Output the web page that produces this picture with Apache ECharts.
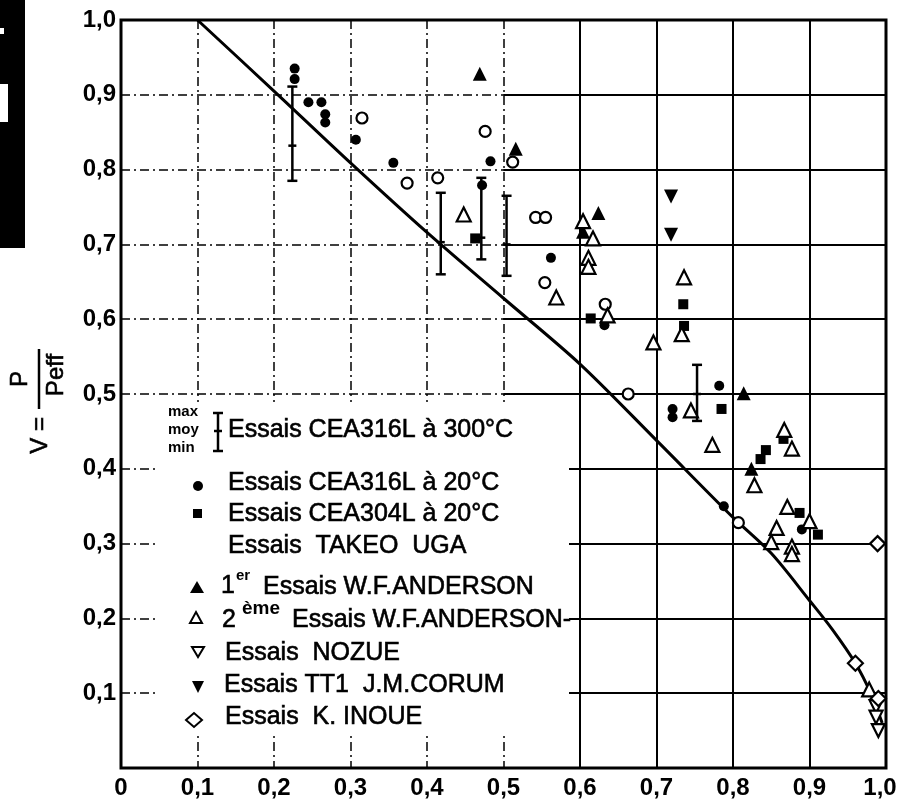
<!DOCTYPE html>
<html>
<head>
<meta charset="utf-8">
<script src="https://cdn.jsdelivr.net/npm/echarts@6/dist/echarts.min.js"></script>
<style>
html, body { margin: 0; padding: 0; background: #fff; }
#chart { width: 899px; height: 805px; }
</style>
</head>
<body>
<div id="chart"></div>
<script>
// tick labels (decimal comma)
var xTickLabels = ['0', '0,1', '0,2', '0,3', '0,4', '0,5', '0,6', '0,7', '0,8', '0,9', '1,0'];
var yTickLabels = ['', '0,1', '0,2', '0,3', '0,4', '0,5', '0,6', '0,7', '0,8', '0,9', '1,0'];

// courbe V = P / Peff
var curveX = [0.10, 0.20, 0.30, 0.40, 0.50, 0.60, 0.70, 0.80, 0.85, 0.90, 0.93, 0.96, 0.98, 0.995];
var curveY = [1.000, 0.905, 0.809, 0.716, 0.628, 0.540, 0.438, 0.335, 0.287, 0.224, 0.185, 0.140, 0.100, 0.060];

// Essais CEA 316L a 300 C : [x, max, moy, min]
var cea316l300 = [
    [0.224, 0.911, 0.832, 0.785],
    [0.418, 0.769, 0.703, 0.660],
    [0.471, 0.789, 0.709, 0.680],
    [0.504, 0.765, 0.700, 0.658],
    [0.753, 0.539, 0.500, 0.464]
];

// Essais CEA 316L a 20 C
var cea316l20 = [
    [0.227, 0.935], [0.227, 0.921], [0.245, 0.890], [0.262, 0.890], [0.267, 0.874],
    [0.267, 0.863], [0.307, 0.840], [0.356, 0.809], [0.483, 0.811], [0.472, 0.779],
    [0.562, 0.682], [0.632, 0.592], [0.721, 0.480], [0.721, 0.469], [0.782, 0.511],
    [0.788, 0.350], [0.890, 0.319]
];

// Essais CEA 304L a 20 C
var cea304l20 = [
    [0.463, 0.708], [0.614, 0.601], [0.735, 0.620], [0.736, 0.591], [0.785, 0.480],
    [0.843, 0.425], [0.836, 0.413], [0.866, 0.440], [0.887, 0.341], [0.911, 0.312]
];

// Essais TAKEO UGA
var takeoUga = [
    [0.315, 0.869], [0.374, 0.782], [0.414, 0.789], [0.476, 0.851], [0.512, 0.810],
    [0.542, 0.736], [0.555, 0.736], [0.554, 0.649], [0.633, 0.620], [0.663, 0.500],
    [0.807, 0.328]
];

// 1er essais W.F. ANDERSON
var anderson1 = [
    [0.469, 0.928], [0.516, 0.828], [0.624, 0.742], [0.604, 0.717], [0.814, 0.501], [0.824, 0.400]
];

// 2eme essais W.F. ANDERSON
var anderson2 = [
    [0.448, 0.740], [0.569, 0.629], [0.604, 0.731], [0.617, 0.708], [0.611, 0.682],
    [0.611, 0.670], [0.636, 0.605], [0.696, 0.569], [0.736, 0.656], [0.733, 0.580],
    [0.745, 0.478], [0.773, 0.432], [0.867, 0.452], [0.877, 0.427], [0.828, 0.378],
    [0.871, 0.349], [0.900, 0.330], [0.857, 0.321], [0.850, 0.302], [0.877, 0.296],
    [0.877, 0.286], [0.978, 0.105]
];

// Essais NOZUE
var nozue = [[0.987, 0.082], [0.987, 0.068], [0.990, 0.050]];

// Essais TT1 J.M. CORUM
var corum = [[0.719, 0.764], [0.719, 0.713]];

// Essais K. INOUE
var inoue = [[0.960, 0.140], [0.989, 0.300], [0.990, 0.093]];

var FONT = '"Liberation Sans", Arial, sans-serif';

function tickIndex(v) { return Math.round(v * 10); }

// barre d'erreur max / moy / min
function renderErrorBar(params, api) {
    var top = api.coord([api.value(0), api.value(1)]);
    var mid = api.coord([api.value(0), api.value(2)]);
    var bot = api.coord([api.value(0), api.value(3)]);
    var st = { stroke: '#000', lineWidth: 2.5 };
    return {
        type: 'group',
        children: [
            { type: 'line', shape: { x1: top[0], y1: top[1], x2: bot[0], y2: bot[1] }, style: st },
            { type: 'line', shape: { x1: top[0] - 5, y1: top[1], x2: top[0] + 5, y2: top[1] }, style: st },
            { type: 'line', shape: { x1: bot[0] - 5, y1: bot[1], x2: bot[0] + 5, y2: bot[1] }, style: st },
            { type: 'line', shape: { x1: mid[0] - 4, y1: mid[1], x2: mid[0] + 4, y2: mid[1] }, style: st }
        ]
    };
}

function scatter(name, data, symbol, size, open, rotate) {
    return {
        name: name,
        type: 'scatter',
        xAxisIndex: 0,
        yAxisIndex: 0,
        data: data,
        symbol: symbol,
        symbolSize: size,
        symbolRotate: rotate || 0,
        z: 4,
        itemStyle: open
            ? { color: '#fff', borderColor: '#000', borderWidth: 2.2, opacity: 1 }
            : { color: '#000', opacity: 1 },
        emphasis: { disabled: true }
    };
}

// legende (texte)
function txt(x, y, s, size, weight) {
    return {
        type: 'text', x: x, y: y, z: 10,
        style: {
            text: s, fill: '#000', stroke: '#000', lineWidth: weight ? 0 : 0.6,
            font: (weight || 'normal') + ' ' + (size || 25) + 'px ' + FONT,
            textAlign: 'left', textVerticalAlign: 'middle'
        }
    };
}
var black = { fill: '#000' };
var hollow = { fill: '#fff', stroke: '#000', lineWidth: 2 };
var ibeam = { stroke: '#000', lineWidth: 2.5 };

var legendGraphics = [
    // fond blanc de la legende
    { type: 'rect', z: 5, shape: { x: 158, y: 402, width: 411, height: 331 }, style: { fill: '#fff' } },

    txt(168, 412, 'max', 15, 'bold'),
    txt(168, 430, 'moy', 15, 'bold'),
    txt(168, 448, 'min', 15, 'bold'),
    { type: 'line', z: 10, shape: { x1: 218, y1: 413, x2: 218, y2: 451 }, style: ibeam },
    { type: 'line', z: 10, shape: { x1: 213, y1: 413, x2: 223, y2: 413 }, style: ibeam },
    { type: 'line', z: 10, shape: { x1: 213, y1: 451, x2: 223, y2: 451 }, style: ibeam },
    { type: 'line', z: 10, shape: { x1: 214, y1: 431, x2: 222, y2: 431 }, style: ibeam },
    txt(228, 430, 'Essais CEA316L à 300°C'),

    { type: 'circle', z: 10, shape: { cx: 198, cy: 486, r: 5 }, style: black },
    txt(228, 483, 'Essais CEA316L à 20°C'),

    { type: 'rect', z: 10, shape: { x: 193, y: 509, width: 9, height: 9 }, style: black },
    txt(228, 514, 'Essais CEA304L à 20°C'),

    txt(228, 546, 'Essais  TAKEO  UGA'),

    { type: 'polygon', z: 10, shape: { points: [[190, 593], [204, 593], [197, 581]] }, style: black },
    txt(221, 586, '1'),
    txt(236, 576, 'er', 15, 'bold'),
    txt(263, 587, 'Essais W.F.ANDERSON'),

    { type: 'polygon', z: 10, shape: { points: [[190, 623], [202, 623], [196, 612]] }, style: hollow },
    txt(222, 620, '2'),
    txt(242, 609, 'ème', 19, 'bold'),
    txt(292, 620, 'Essais W.F.ANDERSON-'),

    { type: 'polygon', z: 10, shape: { points: [[192, 647], [204, 647], [198, 657]] }, style: hollow },
    txt(225, 653, 'Essais  NOZUE'),

    { type: 'polygon', z: 10, shape: { points: [[192, 681], [204, 681], [198, 693]] }, style: black },
    txt(224, 685, 'Essais TT1  J.M.CORUM'),

    { type: 'polygon', z: 10, shape: { points: [[186, 720], [194, 713], [202, 720], [194, 727]] }, style: hollow },
    txt(225, 717, 'Essais  K. INOUE')
];

// titre de l'axe vertical : V = P / Peff
var yTitle = {
    type: 'group', x: 39, y: 379, rotation: Math.PI / 2, z: 10,
    children: [
        { type: 'text', x: 0, y: -19, style: { text: 'P', font: 'normal 24px ' + FONT, fill: '#000', stroke: '#000', lineWidth: 0.6, textAlign: 'center', textVerticalAlign: 'middle' } },
        { type: 'line', shape: { x1: -30, y1: 0, x2: 30, y2: 0 }, style: { stroke: '#000', lineWidth: 2.5 } },
        { type: 'text', x: 4, y: 17, style: { text: 'Peff', font: 'normal 24px ' + FONT, fill: '#000', stroke: '#000', lineWidth: 0.6, textAlign: 'center', textVerticalAlign: 'middle' } },
        { type: 'text', x: -38, y: 1, style: { text: 'V =', font: 'normal 24px ' + FONT, fill: '#000', stroke: '#000', lineWidth: 0.6, textAlign: 'right', textVerticalAlign: 'middle' } }
    ]
};

// bande noire du scan, a gauche
var scanBar = [
    { type: 'rect', z: 1, shape: { x: 0, y: 0, width: 25, height: 248 }, style: { fill: '#000' } },
    { type: 'rect', z: 1, shape: { x: 0, y: 28, width: 4, height: 6 }, style: { fill: '#fff' } },
    { type: 'rect', z: 1, shape: { x: 0, y: 84, width: 8, height: 38 }, style: { fill: '#fff' } }
];

var gridDash = { color: '#000', width: 1.5, type: [9, 4, 2, 4] };
var gridSolid = { color: '#000', width: 2 };
var tickFont = { color: '#000', fontFamily: FONT, fontSize: 24, fontWeight: 'bold' };

var myChart = echarts.init(document.getElementById('chart'));

var option = {
    animation: false,
    backgroundColor: '#fff',
    grid: [
        { left: 121, right: 13, top: 20, bottom: 37, show: true, borderColor: '#000', borderWidth: 3,
          backgroundColor: 'transparent', containLabel: false, outerBoundsMode: 'none' },
        { left: 503.5, right: 13, top: 20, bottom: 37, show: false, containLabel: false, outerBoundsMode: 'none' }
    ],
    xAxis: [
        {
            gridIndex: 0, type: 'value', min: 0, max: 1, interval: 0.1,
            axisLine: { show: false }, axisTick: { show: false },
            splitLine: { show: true, lineStyle: gridDash },
            axisLabel: Object.assign({ margin: 8, showMinLabel: true, showMaxLabel: true,
                formatter: function (v) {
                    var i = tickIndex(v);
                    return i === 10 ? '{r|' + xTickLabels[i] + '}' : xTickLabels[i];
                },
                rich: { r: Object.assign({ padding: [0, 12, 0, 0] }, { color: '#000', fontFamily: FONT, fontSize: 24, fontWeight: 'bold' }) }
            }, tickFont)
        },
        {
            gridIndex: 1, type: 'value', min: 0.5, max: 1, interval: 0.1,
            axisLine: { show: false }, axisTick: { show: false }, axisLabel: { show: false },
            splitLine: { show: true, showMinLine: false, showMaxLine: false, lineStyle: gridSolid }
        }
    ],
    yAxis: [
        {
            gridIndex: 0, type: 'value', min: 0, max: 1, interval: 0.1,
            axisLine: { show: false }, axisTick: { show: false },
            splitLine: { show: true, lineStyle: gridDash },
            axisLabel: Object.assign({ margin: 5, showMinLabel: true, showMaxLabel: true,
                formatter: function (v) { return yTickLabels[tickIndex(v)]; } }, tickFont)
        },
        {
            gridIndex: 1, type: 'value', min: 0, max: 1, interval: 0.1,
            axisLine: { show: false }, axisTick: { show: false }, axisLabel: { show: false },
            splitLine: { show: true, showMinLine: false, showMaxLine: false, lineStyle: gridSolid }
        }
    ],
    graphic: scanBar.concat([yTitle]).concat(legendGraphics),
    series: [
        {
            name: 'V',
            type: 'line',
            xAxisIndex: 0, yAxisIndex: 0,
            data: curveX.map(function (x, i) { return [x, curveY[i]]; }),
            smooth: 0.3,
            showSymbol: false,
            z: 3,
            lineStyle: { color: '#000', width: 3 },
            emphasis: { disabled: true }
        },
        {
            name: 'Essais CEA316L à 300°C',
            type: 'custom',
            xAxisIndex: 0, yAxisIndex: 0,
            data: cea316l300,
            encode: { x: 0, y: [1, 2, 3] },
            renderItem: renderErrorBar,
            z: 4
        },
        scatter('Essais CEA316L à 20°C', cea316l20, 'circle', 10, false),
        scatter('Essais CEA304L à 20°C', cea304l20, 'rect', 10, false),
        scatter('Essais TAKEO UGA', takeoUga, 'circle', 11, true),
        scatter('1er Essais W.F.ANDERSON', anderson1, 'triangle', 14, false),
        scatter('2ème Essais W.F.ANDERSON', anderson2, 'triangle', 14, true),
        scatter('Essais NOZUE', nozue, 'triangle', 13, true, 180),
        scatter('Essais TT1 J.M.CORUM', corum, 'triangle', 14, false, 180),
        scatter('Essais K.INOUE', inoue, 'diamond', 15, true)
    ]
};

myChart.setOption(option);
</script>
</body>
</html>
